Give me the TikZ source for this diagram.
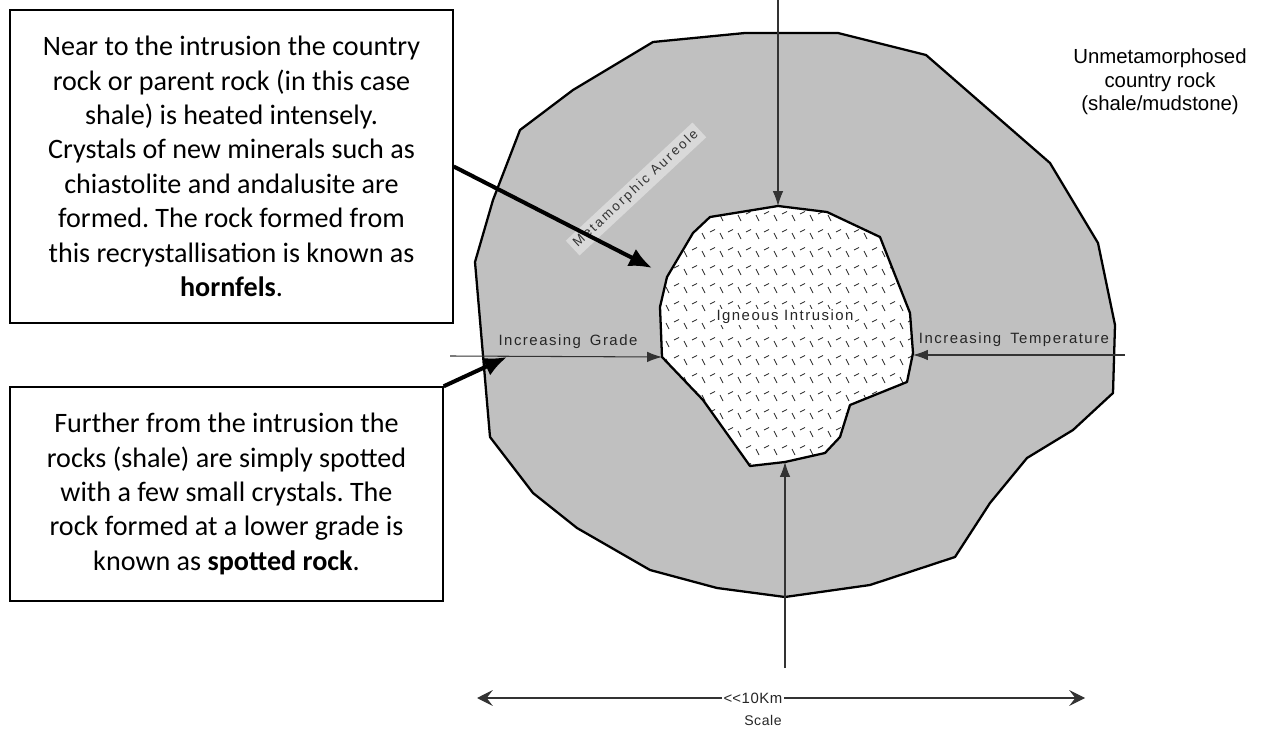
\documentclass[tikz,border=0pt]{standalone}
\usepackage{fontspec}
\setmainfont{Carlito}
\newfontfamily\labelfont{Liberation Sans}
\usetikzlibrary{arrows.meta}
\frenchspacing

\definecolor{aureole}{HTML}{C0C0C0}
\definecolor{tagfill}{HTML}{D9D9D9}

% outline of the intrusion, reused for fill, hatch clip and border
\def\intrusion{(710,217) -- (778,206) -- (827,212) -- (880,237) -- (910,313)
  -- (913,353) -- (907,382) -- (850,405) -- (840,437) -- (825,453) -- (785,462)
  -- (750,466) -- (703,400) -- (662,357) -- (660,307) -- (667,277) -- (693,233) -- cycle}

\begin{document}
\begin{tikzpicture}[x=0.02cm,y=-0.02cm,
  note/.style={draw=black, line width=0.85pt, fill=white, align=center,
    inner sep=0pt, font=\fontsize{16}{19.6}\selectfont},
  thinarrow/.style={draw=black!80, line width=0.6pt, -{Latex[length=8.5pt,width=6pt]}},
  boldarrow/.style={draw=black, line width=2.3pt, -{Latex[length=13pt,width=11pt]}},
  scalearrow/.style={draw=black!80, line width=0.6pt, -{Stealth[length=9pt,width=9pt,inset=3.5pt]}},
  maplabel/.style={font=\labelfont\fontsize{8.5}{10}\selectfont\addfontfeature{LetterSpace=10},
    text=black!85, inner sep=1pt},
  hatch/.style={line width=0.45pt, black!85},
  rim/.style={line width=1.3pt, black, line join=round}
]
\useasboundingbox (0,0) rectangle (1265,729);

% metamorphic aureole
\fill[aureole] (653,42) -- (745,33) -- (838,33) -- (926,55) -- (1050,163)
  -- (1098,243) -- (1115,325) -- (1113,393) -- (1073,430) -- (1027,458)
  -- (990,503) -- (955,557) -- (870,585) -- (785,597) -- (717,588) -- (650,570)
  -- (577,528) -- (533,493) -- (490,437) -- (475,262) -- (493,200) -- (520,130)
  -- (573,90) -- cycle;
\draw[rim] (653,42) -- (745,33) -- (838,33) -- (926,55) -- (1050,163)
  -- (1098,243) -- (1115,325) -- (1113,393) -- (1073,430) -- (1027,458)
  -- (990,503) -- (955,557) -- (870,585) -- (785,597) -- (717,588) -- (650,570)
  -- (577,528) -- (533,493) -- (490,437) -- (475,262) -- (493,200) -- (520,130)
  -- (573,90) -- cycle;

% igneous intrusion with its crystal hatch
\fill[white] \intrusion;
\begin{scope}
  \clip \intrusion;
  \foreach \i in {0,...,16} {
    \foreach \j in {0,...,16} {
      \draw[hatch] ({648+18*\i},{197+18*\j}) -- ++(3,6);
      \draw[hatch] ({656+18*\i},{214+18*\j}) -- ++(5,-2.5);
    }
  }
\end{scope}
\draw[rim] \intrusion;

% named points on the intrusion margin and free ends of the arrows
\coordinate (inTop) at (778,206);
\coordinate (inLeft) at (662,357);
\coordinate (inRight) at (913,355);
\coordinate (inBottom) at (785,462);
\coordinate (fromTop) at (778,0);
\coordinate (fromLeft) at (450,356);
\coordinate (fromRight) at (1125,355);
\coordinate (fromBottom) at (785,668);
\coordinate (hornfelsZone) at (652,268);
\coordinate (spottedZone) at (507,357);
\coordinate (scaleL) at (477,698);
\coordinate (scaleR) at (1085,698);

% map labels
\node[maplabel, fill=white, inner sep=0.6pt] (ign) at (785,317) {Igneous Intrusion};
\node[maplabel] (grade) at (568,342) {Increasing\hspace{0.6em}Grade};
\node[maplabel] (temp) at (1014,340) {Increasing\hspace{0.6em}Temperature};
\node[rotate=43, fill=tagfill, inner sep=2.2pt, text=black!80,
  font=\labelfont\fontsize{7.6}{9}\selectfont\addfontfeature{LetterSpace=17}]
  (aur) at (636,189) {Metamorphic Aureole};
\node[align=center, font=\labelfont\fontsize{11.6}{13.3}\selectfont, inner sep=0pt]
  (country) at (1160,82) {Unmetamorphosed\\country rock\\(shale/mudstone)};

% thin arrows pointing at the intrusion
\draw[thinarrow] (fromTop) -- (inTop);
\draw[thinarrow] (fromLeft) -- (inLeft);
\draw[thinarrow] (fromRight) -- (inRight);
\draw[thinarrow] (fromBottom) -- (inBottom);

% scale bar
\node[fill=white, inner sep=0.8pt, text=black!85,
  font=\labelfont\fontsize{8.5}{10}\selectfont\addfontfeature{LetterSpace=4}]
  (km) at (753,698) {<\kern0pt<10Km};
\node[text=black!85, font=\labelfont\fontsize{8}{10}\selectfont\addfontfeature{LetterSpace=4}]
  (scale) at (763,720) {Scale};
\draw[scalearrow] (km.west) -- (scaleL);
\draw[scalearrow] (km.east) -- (scaleR);

% explanatory notes
\node[note, minimum width=8.86cm, minimum height=6.26cm] (near) at (231.5,166.5)
  {Near to the intrusion the country\\
   rock or parent rock (in this case\\
   shale) is heated intensely.\\
   Crystals of new minerals such as\\
   chiastolite and andalusite are\\
   formed. The rock formed from\\
   this recrystallisation is known as\\
   \textbf{hornfels}.};
\node[note, minimum width=8.66cm, minimum height=4.28cm] (far) at (226.5,494)
  {Further from the intrusion the\\
   rocks (shale) are simply spotted\\
   with a few small crystals. The\\
   rock formed at a lower grade is\\
   known as \textbf{spotted rock}.};

\draw[boldarrow] (near.east) -- (hornfelsZone);
\draw[boldarrow] (far.north east) -- (spottedZone);
\end{tikzpicture}
\end{document}
